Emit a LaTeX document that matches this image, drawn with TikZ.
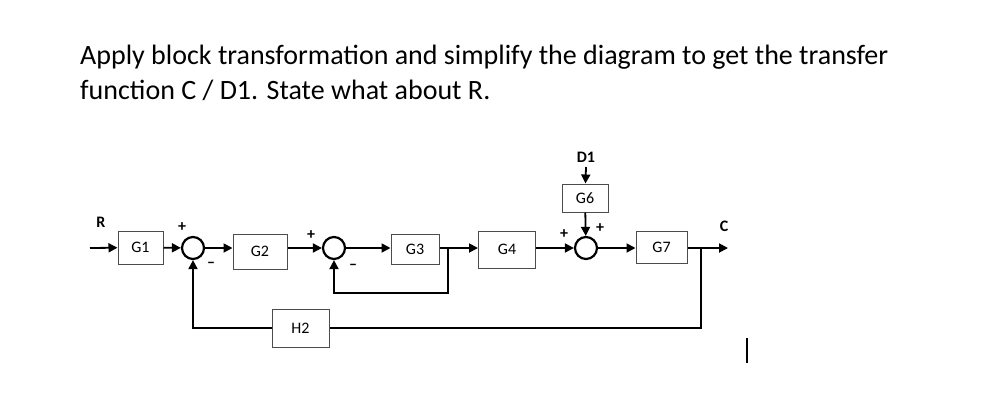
\documentclass[tikz,border=0pt]{standalone}
\usepackage{fontspec}
\setmainfont{Carlito}
\usetikzlibrary{arrows.meta}
\begin{document}
\begin{tikzpicture}[x=1pt,y=-1pt,
  blk/.style={draw=black!70,line width=1pt,font=\fontsize{16}{16}\selectfont},
  sum/.style={draw,circle,line width=2.2pt,minimum size=22pt,inner sep=0pt},
  sig/.style={line width=1.8pt},
  arr/.style={sig,-{Triangle[length=9pt,width=9pt]}},
  sgn/.style={font=\bfseries\fontsize{16}{16}\selectfont},
  lbl/.style={font=\bfseries\fontsize{16}{16}\selectfont}]
\useasboundingbox (0,0) rectangle (990,404);
% title
\node[anchor=base west,inner sep=0pt,font=\fontsize{28}{28}\selectfont] (t1) at (80,65)
  {Apply block transformation and simplify the diagram to get the transfer};
\node[anchor=base west,inner sep=0pt,font=\fontsize{28}{28}\selectfont] (t2) at (80,99)
  {function C / D1. State what about R.};
% blocks
\node[blk,minimum width=45pt,minimum height=33pt] (g1) at (140.5,247.5) {G1};
\node[blk,minimum width=54pt,minimum height=35pt] (g2) at (260,251.5) {G2};
\node[blk,minimum width=48pt,minimum height=30pt] (g3) at (415,249) {G3};
\node[blk,minimum width=57pt,minimum height=37pt] (g4) at (507,249.5) {G4};
\node[blk,minimum width=46pt,minimum height=28pt] (g6) at (585,198) {G6};
\node[blk,minimum width=51pt,minimum height=32pt] (g7) at (661.5,247) {G7};
\node[blk,minimum width=57pt,minimum height=38pt] (h2) at (300.5,328) {H2};
% summing junctions
\node[sum] (s1) at (193,248) {};
\node[sum] (s2) at (334,248) {};
\node[sum] (s3) at (586,248) {};
% labels
\node[lbl] (r) at (101,222) {R};
\node[lbl] (c) at (724,226) {C};
\node[lbl] (d1) at (586,157) {D1};
\coordinate (rin) at (90,248);
\coordinate (cout) at (728,248);
\coordinate (d1e) at (586,167);
\coordinate (b1) at (448,248);
\coordinate (b2) at (701,248);
% signs
\node[sgn] (p1) at (182,227) {+};
\node[sgn] (m1) at (211,265) {--};
\node[sgn] (p2) at (311,235) {+};
\node[sgn] (m2) at (353,267) {--};
\node[sgn] (p3) at (564,234) {+};
\node[sgn] (p4) at (600,228) {+};
% forward path
\draw[arr] (rin) -- (g1);
\draw[arr] (g1) -- (s1);
\draw[arr] (s1) -- (g2.west |- s1);
\draw[arr] (g2.east |- s2) -- (s2);
\draw[arr] (s2) -- (g3.west |- s2);
\draw[sig] (g3.east |- b1) -- (b1);
\draw[arr] (b1) -- (g4.west |- b1);
\draw[arr] (g4.east |- s3) -- (s3);
\draw[arr] (s3) -- (g7.west |- s3);
\draw[sig] (g7.east |- b2) -- (b2);
\draw[arr] (b2) -- (cout);
\draw[arr] (d1e) -- (g6);
\draw[arr] (g6) -- (s3);
% feedback
\draw[arr] (b1) |- (334,293) -- (s2);
\draw[sig] (b2) |- (h2.east);
\draw[arr] (h2.west) -| (s1);
% stray mark
\draw[line width=1.8pt] (747,338) -- (747,363);
\end{tikzpicture}
\end{document}
